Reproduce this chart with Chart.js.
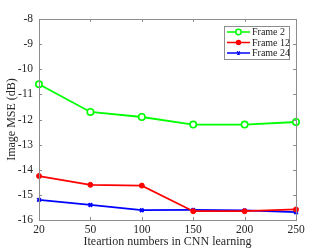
<!DOCTYPE html>
<html>
<head>
<meta charset="utf-8">
<script src="https://cdn.jsdelivr.net/npm/chart.js@4/dist/chart.umd.min.js"></script>
<style>
  html, body { margin: 0; padding: 0; background: #fff; }
  #wrap { width: 319px; height: 249px; }
</style>
</head>
<body>
<div id="wrap"><canvas id="chart" width="319" height="249"></canvas></div>
<script>
// iteration counts (equally spaced on the axis)
const iterations = ['20', '50', '100', '150', '200', '250'];
const frame2 = [-10.6, -11.7, -11.9, -12.2, -12.2, -12.1];
const frame12 = [-14.25, -14.6, -14.63, -15.65, -15.65, -15.58];
const frame24 = [-15.2, -15.4, -15.61, -15.6, -15.62, -15.69];
const yTicks = [-8, -9, -10, -11, -12, -13, -14, -15, -16];

const serif = "'Liberation Serif', 'DejaVu Serif', serif";
const axisColor = '#8c8c8c';

// box round the plot, with ticks pointing inward (matlab look)
const boxPlugin = {
  id: 'box',
  afterDraw(chart) {
    const ctx = chart.ctx;
    const a = chart.chartArea;
    const xs = chart.scales.x, ys = chart.scales.y;
    ctx.save();
    ctx.strokeStyle = axisColor;
    ctx.lineWidth = 1;
    ctx.strokeRect(a.left + 0.5, a.top + 0.5, a.right - a.left, a.bottom - a.top);
    ctx.beginPath();
    for (let i = 0; i < iterations.length; i++) {
      const x = Math.round(xs.getPixelForValue(i)) + 0.5;
      ctx.moveTo(x, a.bottom); ctx.lineTo(x, a.bottom - 3);
      ctx.moveTo(x, a.top); ctx.lineTo(x, a.top + 3);
    }
    yTicks.forEach(v => {
      const y = Math.round(ys.getPixelForValue(v)) + 0.5;
      ctx.moveTo(a.left, y); ctx.lineTo(a.left + 3, y);
      ctx.moveTo(a.right, y); ctx.lineTo(a.right - 3, y);
    });
    ctx.stroke();
    ctx.restore();
  }
};

// legend box inside the plot, top right
const legendPlugin = {
  id: 'boxLegend',
  afterDatasetsDraw(chart) {
    const ctx = chart.ctx;
    const bx = 224, by = 26, bw = 65, bh = 33;
    ctx.save();
    ctx.fillStyle = '#fff';
    ctx.fillRect(bx, by, bw, bh);
    ctx.strokeStyle = axisColor;
    ctx.lineWidth = 1;
    ctx.strokeRect(bx + 0.5, by + 0.5, bw, bh);
    ctx.font = '10px ' + serif;
    ctx.textBaseline = 'middle';
    chart.data.datasets.forEach((ds, i) => {
      const y = by + 6 + i * 10.5;
      ctx.strokeStyle = ds.borderColor;
      ctx.fillStyle = ds.backgroundColor;
      ctx.lineWidth = 1.5;
      ctx.beginPath();
      ctx.moveTo(bx + 3, y); ctx.lineTo(bx + 26, y);
      ctx.stroke();
      Chart.helpers.drawPoint(ctx, {
        pointStyle: ds.pointStyle, radius: ds.pointRadius - 0.5, borderWidth: ds.pointBorderWidth
      }, bx + 14.5, y);
      ctx.fillStyle = '#222';
      ctx.fillText(ds.label, bx + 28, y + 0.5);
    });
    ctx.restore();
  }
};

new Chart(document.getElementById('chart'), {
  type: 'line',
  data: {
    labels: iterations,
    datasets: [
      {
        label: 'Frame 2', data: frame2,
        borderColor: '#00ff00', backgroundColor: '#ffffff',
        borderWidth: 1.8, pointStyle: 'circle', pointRadius: 3.2, pointBorderWidth: 1.6
      },
      {
        label: 'Frame 12', data: frame12,
        borderColor: '#ff0000', backgroundColor: '#ff0000',
        borderWidth: 1.8, pointStyle: 'circle', pointRadius: 2.5, pointBorderWidth: 1
      },
      {
        label: 'Frame 24', data: frame24,
        borderColor: '#0000ff', backgroundColor: '#0000ff',
        borderWidth: 1.8, pointStyle: 'crossRot', pointRadius: 2.5, pointBorderWidth: 2
      }
    ]
  },
  options: {
    responsive: false,
    animation: false,
    layout: { padding: { top: 19, right: 23, left: 5, bottom: 0 } },
    plugins: { legend: { display: false }, tooltip: { enabled: false } },
    scales: {
      x: {
        type: 'category',
        offset: false,
        grid: { display: false, drawTicks: false },
        border: { display: false },
        ticks: { color: '#262626', font: { family: serif, size: 11.5 }, padding: 3, maxRotation: 0 },
        title: { display: true, text: 'Iteartion numbers in CNN learning', color: '#262626',
                 font: { family: serif, size: 12 }, padding: { top: 0, bottom: 0 } },
        afterFit(scale) { scale.height = 29; }
      },
      y: {
        min: -16, max: -8,
        grid: { display: false, drawTicks: false },
        border: { display: false },
        ticks: { stepSize: 1, color: '#262626', font: { family: serif, size: 11.5 }, padding: 6 },
        title: { display: true, text: 'Image MSE (dB)', color: '#262626',
                 font: { family: serif, size: 12 }, padding: { top: 0, bottom: 0 } },
        afterFit(scale) { scale.width = 34; }
      }
    }
  },
  plugins: [boxPlugin, legendPlugin]
});
</script>
</body>
</html>
